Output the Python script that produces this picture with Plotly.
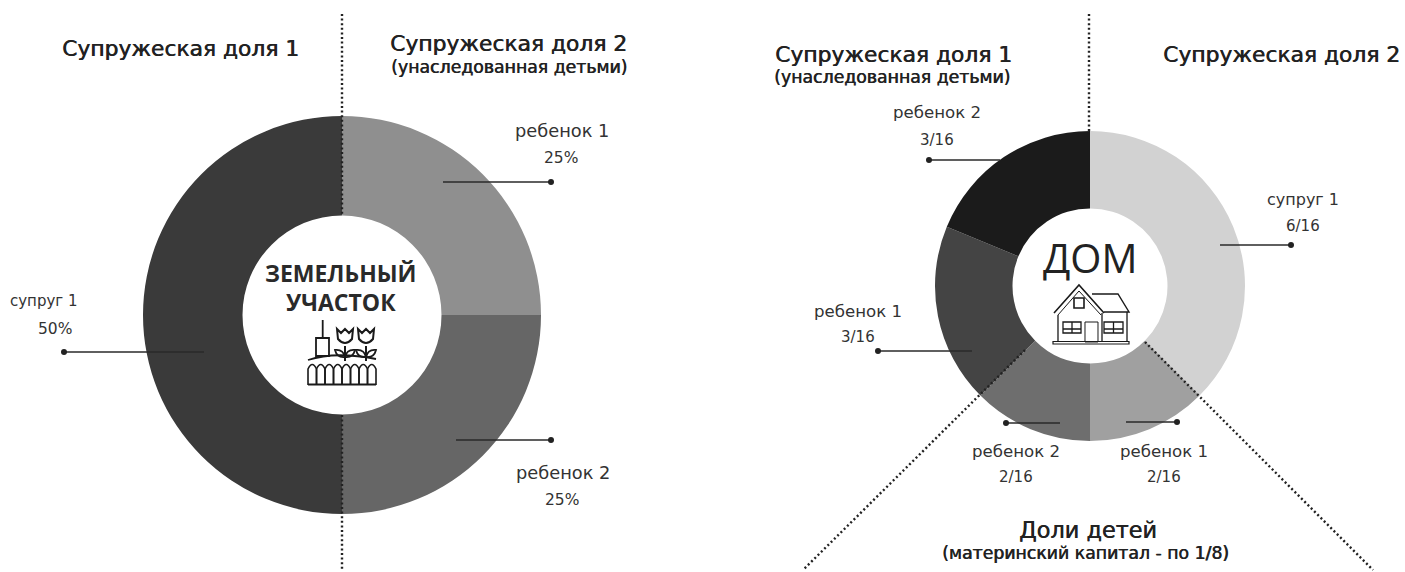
import re
import plotly.graph_objects as go

W, H = 1405, 572

# ---------- data ----------
land_names = ["ребенок 1", "ребенок 2", "супруг 1"]
land_values = [25, 25, 50]
land_colors = ["#8f8f8f", "#666666", "#3a3a3a"]
land_text = ["25%", "25%", "50%"]

house_names = ["супруг 1", "ребенок 1", "ребенок 2", "ребенок 1", "ребенок 2"]
house_values = [6, 2, 2, 3, 3]
house_colors = ["#d2d2d2", "#a0a0a0", "#6e6e6e", "#444444", "#1b1b1b"]
house_text = ["6/16", "2/16", "2/16", "3/16", "3/16"]


def fx(x):
    return x / W


def fy(y):
    return 1 - y / H


def donut(values, names, vals_text, colors, cx, cy, r, hole):
    return go.Pie(
        values=values, labels=[f"{n} — {t}" for n, t in zip(names, vals_text)],
        sort=False, direction="clockwise", rotation=0,
        hole=hole, marker=dict(colors=colors, line=dict(width=0)), textinfo="none",
        hoverinfo="label", showlegend=False,
        domain=dict(x=[fx(cx - r), fx(cx + r)], y=[fy(cy + r), fy(cy - r)]),
    )


fig = go.Figure()
fig.add_trace(donut(land_values, land_names, land_text, land_colors, 342, 315, 199, 0.5))
fig.add_trace(donut(house_values, house_names, house_text, house_colors, 1090, 286, 155, 0.5))

shapes = []
annotations = []

MAIN = "DejaVu Sans"
CENTER = "Open Sans"


def text(s, x, y, size=15, color="#333333", family=MAIN, weight=400, shadow="none"):
    annotations.append(dict(
        text=s, x=fx(x), y=fy(y), xref="paper", yref="paper", showarrow=False,
        xanchor="center", yanchor="middle",
        font=dict(family=family, size=size, color=color, weight=weight, shadow=shadow),
    ))


def dotted(x0, y0, x1, y1):
    shapes.append(dict(type="line", xref="paper", yref="paper", x0=fx(x0), y0=fy(y0), x1=fx(x1), y1=fy(y1),
                       line=dict(color="#222222", width=2.4, dash="2px,2.6px"), layer="above"))


def leader(x0, y, x1, dot_x):
    shapes.append(dict(type="line", xref="paper", yref="paper", x0=fx(x0), y0=fy(y), x1=fx(x1), y1=fy(y),
                       line=dict(color="#2a2a2a", width=1.5), layer="above"))
    r = 3
    shapes.append(dict(type="circle", xref="paper", yref="paper", x0=fx(dot_x - r), x1=fx(dot_x + r),
                       y0=fy(y + r), y1=fy(y - r), fillcolor="#222222", line=dict(width=0), layer="above"))


def path(d, width=1.5, fill=None):
    idx = [0]

    def conv(m):
        v = float(m.group(0))
        i = idx[0]
        idx[0] += 1
        return f"{fx(v):.5f}" if i % 2 == 0 else f"{fy(v):.5f}"

    d2 = re.sub(r"-?\d+(?:\.\d+)?", conv, d)
    shapes.append(dict(type="path", xref="paper", yref="paper", path=d2,
                       line=dict(color="#1a1a1a", width=width),
                       fillcolor=fill if fill else "rgba(0,0,0,0)", layer="above"))


# dotted dividers
dotted(342, 14, 342, 215)
dotted(342, 415, 342, 570)
dotted(1089, 14, 1089, 131)
dotted(1025, 350, 803, 570)
dotted(1145, 342, 1373, 570)

# leaders
leader(443, 182, 551, 551)
leader(456, 440, 551, 551)
leader(64, 352, 204, 64)
leader(929, 160, 1000, 929)
leader(1220, 245, 1291, 1291)
leader(878, 351, 972, 878)
leader(1006, 423, 1060, 1006)
leader(1126, 422, 1177, 1177)

# headings
HS, SS = 21.8, 17.3
BOLD = "0.6px 0 0 #222222"
text("Супружеская доля 1", 180, 48, HS, "#222222", shadow=BOLD)
text("Супружеская доля 2", 508, 44, HS, "#222222", shadow=BOLD)
text("(унаследованная детьми)", 509, 67, SS, "#222222", shadow=BOLD)
text("Супружеская доля 1", 893, 55, HS, "#222222", shadow=BOLD)
text("(унаследованная детьми)", 892, 77, SS, "#222222", shadow=BOLD)
text("Супружеская доля 2", 1281, 55, HS, "#222222", shadow=BOLD)
text("Доли детей", 1088, 530, 22.4, "#222222", shadow=BOLD)
text("(материнский капитал - по 1/8)", 1085, 553, SS, "#222222", shadow=BOLD)

# slice labels
land_pos = [(562, 130, 561, 158), (563, 472, 562, 500), (44, 301, 55, 329)]
land_size = [17.8, 17.8, 15]
for lab, val, sz, (a, b, c, d) in zip(land_names, land_text, land_size, land_pos):
    text(lab, a, b, sz)
    text(val, c, d, 15.5)

house_pos = [(1303, 200, 1303, 226), (1164, 451, 1164, 477), (1016, 451, 1016, 477),
             (858, 311, 858, 337), (937, 113, 937, 140)]
house_size = [16, 16.6, 16.6, 16.6, 16.6]
for lab, val, sz, (a, b, c, d) in zip(house_names, house_text, house_size, house_pos):
    text(lab, a, b, sz)
    text(val, c, d, 15)

# centres
text("ЗЕМЕЛЬНЫЙ", 341, 273, 23, "#2a2a2a", CENTER, 700)
text("УЧАСТОК", 341, 302, 23, "#2a2a2a", CENTER, 700)
text("ДОМ", 1090, 257, 40, "#222222", CENTER, 400)

# garden icon
path("M322.7,320 L322.7,338", 1.8)
path("M316,338 L329,338 L329,356 L316,356 Z", 1.8)
path("M308,360 Q335,351 376,359", 1.8)
for tx in (345, 366):
    a, b = tx - 8, tx + 8
    path(f"M{a},329 L{a+1},339 Q{tx},347 {b-1},339 L{b},329 L{tx+4},333 L{tx},329 L{tx-4},333 Z", 2)
    path(f"M{tx},346 L{tx},361", 2)
    path(f"M{tx},357 Q{a},358 {a-2},350 Q{tx-2},349 {tx},357 Q{b},358 {b+2},350 Q{tx+2},349 {tx},357", 1.8)
for i in range(8):
    x = 308 + i * 8.5
    path(f"M{x},385 L{x},369 Q{x+4.2},360 {x+8.5},369 L{x+8.5},385", 1.6)
path("M308,384.5 L376,384.5", 2.2)

# house icon
path("M1053,341.5 L1129,341.5 L1129,344 L1053,344 Z", 1.2)
path("M1054,313 L1079,285 L1104,313", 1.6)
path("M1058,315 L1079,291 L1101,315", 1)
path("M1092,294 L1118,294 L1129,312 L1104,312", 1.4)
path("M1058,315 L1058,342 M1102,313 L1102,342 M1127,312 L1127,342", 1.3)
path("M1074,298 L1084,298 L1084,308 L1074,308 Z", 1.6)
path("M1063,322 L1081,322 L1081,333 L1063,333 Z M1072,322 L1072,333 M1063,329 L1081,329", 1.3)
path("M1104,322 L1123,322 L1123,333 L1104,333 Z M1113.5,322 L1113.5,333 M1104,329 L1123,329", 1.3)
path("M1085,322 L1098,322 L1098,342 L1085,342 Z", 1)

fig.update_layout(
    width=W, height=H, margin=dict(l=0, r=0, t=0, b=0),
    paper_bgcolor="white", plot_bgcolor="white", showlegend=False,
    shapes=shapes, annotations=annotations,
)
fig.write_html("out.html", post_script="document.body.style.margin='0';", config=dict(displayModeBar=False))
